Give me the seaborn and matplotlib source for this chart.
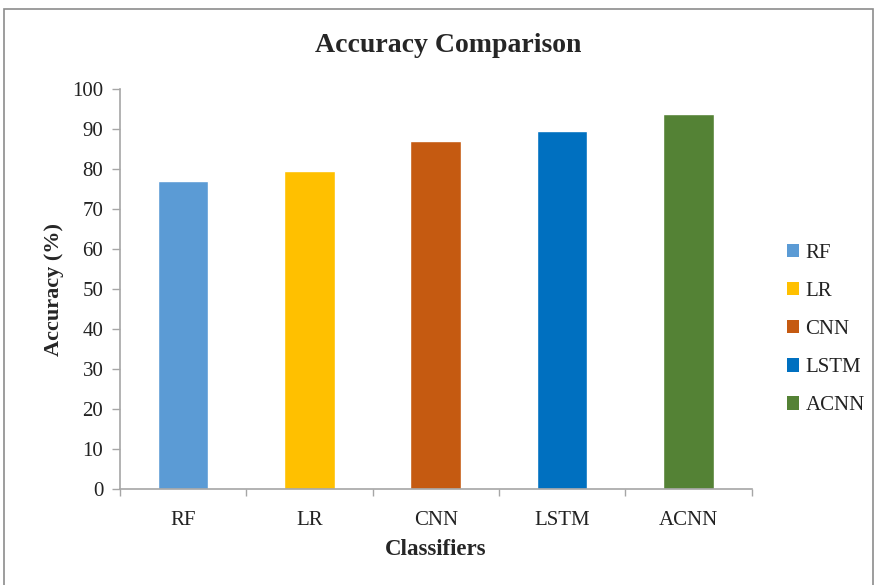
import matplotlib
matplotlib.use("Agg")
import matplotlib.pyplot as plt
import seaborn as sns
import pandas as pd
from matplotlib.patches import Patch, Rectangle

classifiers = ["RF", "LR", "CNN", "LSTM", "ACNN"]
accuracy = [77.0, 79.6, 87.0, 89.5, 93.8]
colors = ["#5B9BD5", "#FFC000", "#C55A11", "#0070C0", "#548235"]
yticks = [0, 10, 20, 30, 40, 50, 60, 70, 80, 90, 100]

sns.set_theme(style="white")
plt.rcParams["font.family"] = ["Liberation Serif", "DejaVu Serif"]

df = pd.DataFrame({"Classifier": classifiers, "Accuracy": accuracy})

fig = plt.figure(figsize=(8.75, 5.85), dpi=100)
ax = fig.add_axes([120 / 875, 1 - 489 / 585, 631.5 / 875, 400 / 585])

sns.barplot(data=df, x="Classifier", y="Accuracy", hue="Classifier",
            palette=colors, width=0.4, legend=False, ax=ax, saturation=1)

ax.set_ylim(0, 100)
ax.set_xlim(-0.5, len(classifiers) - 0.5)
ax.set_yticks(yticks)
ax.set_yticklabels([str(t) for t in yticks], fontsize=15, color="#222222")
ax.set_xticks(range(len(classifiers)))
ax.set_xticklabels(classifiers, fontsize=15, color="#222222")

# boundary ticks on x axis (Excel style)
ax.set_xticks([i - 0.5 for i in range(len(classifiers) + 1)], minor=True)
ax.tick_params(axis="x", which="major", length=0, pad=16)
ax.tick_params(axis="x", which="minor", length=5, width=1, color="#A6A6A6", direction="out", bottom=True)
ax.tick_params(axis="y", which="major", length=6, width=1, color="#A6A6A6", direction="out", left=True, pad=6)

for s in ["top", "right"]:
    ax.spines[s].set_visible(False)
for s in ["left", "bottom"]:
    ax.spines[s].set_color("#A6A6A6")
    ax.spines[s].set_linewidth(1.2)

ax.set_xlabel("Classifiers", fontsize=16.5, fontweight="bold", labelpad=6)
ax.set_ylabel("Accuracy (%)", fontsize=16, fontweight="bold", labelpad=6)

fig.text(448 / 875, 1 - 45 / 585, "Accuracy Comparison", ha="center", va="center",
         fontsize=20, fontweight="bold")

handles = [Patch(facecolor=c, edgecolor="none") for c in colors]
leg = fig.legend(handles, classifiers, loc="upper left",
                 bbox_to_anchor=(768 / 875, 1 - 225 / 585),
                 frameon=False, fontsize=15, handlelength=0.6, handleheight=0.6,
                 handletextpad=0.3, labelspacing=0.92)
for t in leg.get_texts():
    t.set_color("#222222")

fig.patches.append(Rectangle((4 / 875, -0.05), (873 - 4) / 875, 1.05 - 9 / 585,
                             transform=fig.transFigure, fill=False,
                             edgecolor="#8C8C8C", linewidth=1.2))

fig.savefig("out.png", dpi=100)
